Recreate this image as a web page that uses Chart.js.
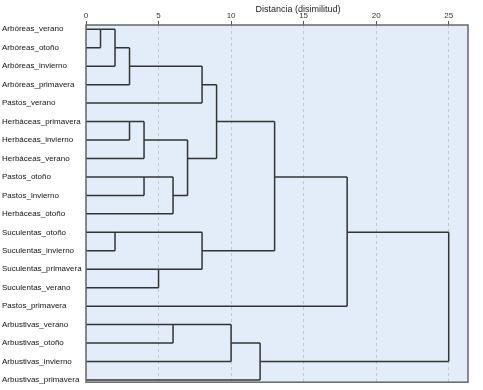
<!DOCTYPE html>
<html>
<head>
<meta charset="utf-8">
<script src="https://cdn.jsdelivr.net/npm/chart.js@4/dist/chart.umd.min.js"></script>
<style>
  body { margin: 0; background: #fff; }
</style>
</head>
<body>
<canvas id="dendro" width="483" height="390"></canvas>
<script>
const leaves = [
    'Arbóreas_verano', 'Arbóreas_otoño', 'Arbóreas_invierno', 'Arbóreas_primavera',
    'Pastos_verano', 'Herbáceas_primavera', 'Herbáceas_invierno', 'Herbáceas_verano',
    'Pastos_otoño', 'Pastos_invierno', 'Herbáceas_otoño', 'Suculentas_otoño',
    'Suculentas_invierno', 'Suculentas_primavera', 'Suculentas_verano', 'Pastos_primavera',
    'Arbustivas_verano', 'Arbustivas_otoño', 'Arbustivas_invierno', 'Arbustivas_primavera'
];
// merges in order: row of upper cluster, row of lower cluster, distance
const mergeA = [0, 0, 11, 1, 5, 5, 8, 13, 8, 16, 6, 2, 11, 3, 16, 17, 5, 8, 11];
const mergeB = [1, 2, 12, 3, 6, 7, 9, 14, 10, 17, 9, 4, 13, 7, 18, 19, 12, 15, 18];
const mergeDist = [1, 2, 2, 3, 3, 4, 4, 5, 6, 6, 7, 8, 8, 9, 10, 12, 13, 18, 25];
const distTicks = [0, 5, 10, 15, 20, 25];
const axisTitle = 'Distancia (disimilitud)';

// build the elbow segments, cluster line sits on the middle row
const segments = [];
const start = leaves.map(() => 0);
mergeA.forEach((a, i) => {
    const b = mergeB[i];
    const d = mergeDist[i];
    segments.push([{x: start[a], y: a}, {x: d, y: a}]);
    segments.push([{x: start[b], y: b}, {x: d, y: b}]);
    segments.push([{x: d, y: a}, {x: d, y: b}]);
    start[Math.floor((a + b) / 2)] = d;
});

const datasets = segments.map(seg => ({
    data: seg,
    showLine: true,
    borderColor: '#333',
    borderWidth: 1.5,
    pointRadius: 0,
    fill: false
}));

const plotFrame = {
    id: 'plotFrame',
    beforeDraw(chart) {
        const {ctx, chartArea: a} = chart;
        ctx.save();
        ctx.fillStyle = '#e3edf9';
        ctx.fillRect(a.left, a.top, a.right - a.left, a.bottom - a.top);
        ctx.restore();
    },
    afterDraw(chart) {
        const {ctx, chartArea: a} = chart;
        ctx.save();
        ctx.strokeStyle = '#666';
        ctx.lineWidth = 1.5;
        ctx.strokeRect(a.left, a.top, a.right - a.left, a.bottom - a.top);
        ctx.fillStyle = '#222';
        ctx.font = '9px "Liberation Sans", Arial, sans-serif';
        ctx.textAlign = 'center';
        ctx.textBaseline = 'middle';
        ctx.fillText(axisTitle, 298, 10);
        ctx.restore();
    }
};

new Chart(document.getElementById('dendro'), {
    type: 'scatter',
    data: { datasets: datasets },
    options: {
        responsive: false,
        animation: false,
        layout: { padding: { left: 2, right: 15, top: 0, bottom: 7 } },
        plugins: { legend: { display: false }, tooltip: { enabled: false } },
        scales: {
            x: {
                type: 'linear',
                position: 'top',
                min: 0,
                max: 26.33,
                afterBuildTicks: scale => { scale.ticks = distTicks.map(v => ({value: v})); },
                afterFit: scale => { scale.height = 25; },
                ticks: {
                    padding: 0,
                    color: '#333',
                    font: { family: '"Liberation Sans", Arial, sans-serif', size: 8 },
                    maxRotation: 0
                },
                grid: { color: '#c4c8cc', tickColor: '#555', tickLength: 4 },
                border: { display: false, dash: [3, 3] }
            },
            y: {
                type: 'linear',
                reverse: true,
                min: -0.232,
                max: 19.12,
                afterBuildTicks: scale => { scale.ticks = leaves.map((_, i) => ({value: i})); },
                afterFit: scale => { scale.width = 84; },
                ticks: {
                    crossAlign: 'far',
                    color: '#111',
                    font: { family: '"Liberation Sans", Arial, sans-serif', size: 8 },
                    callback: v => leaves[v] ?? ''
                },
                grid: { display: false },
                border: { display: false }
            }
        }
    },
    plugins: [plotFrame]
});
</script>
</body>
</html>
